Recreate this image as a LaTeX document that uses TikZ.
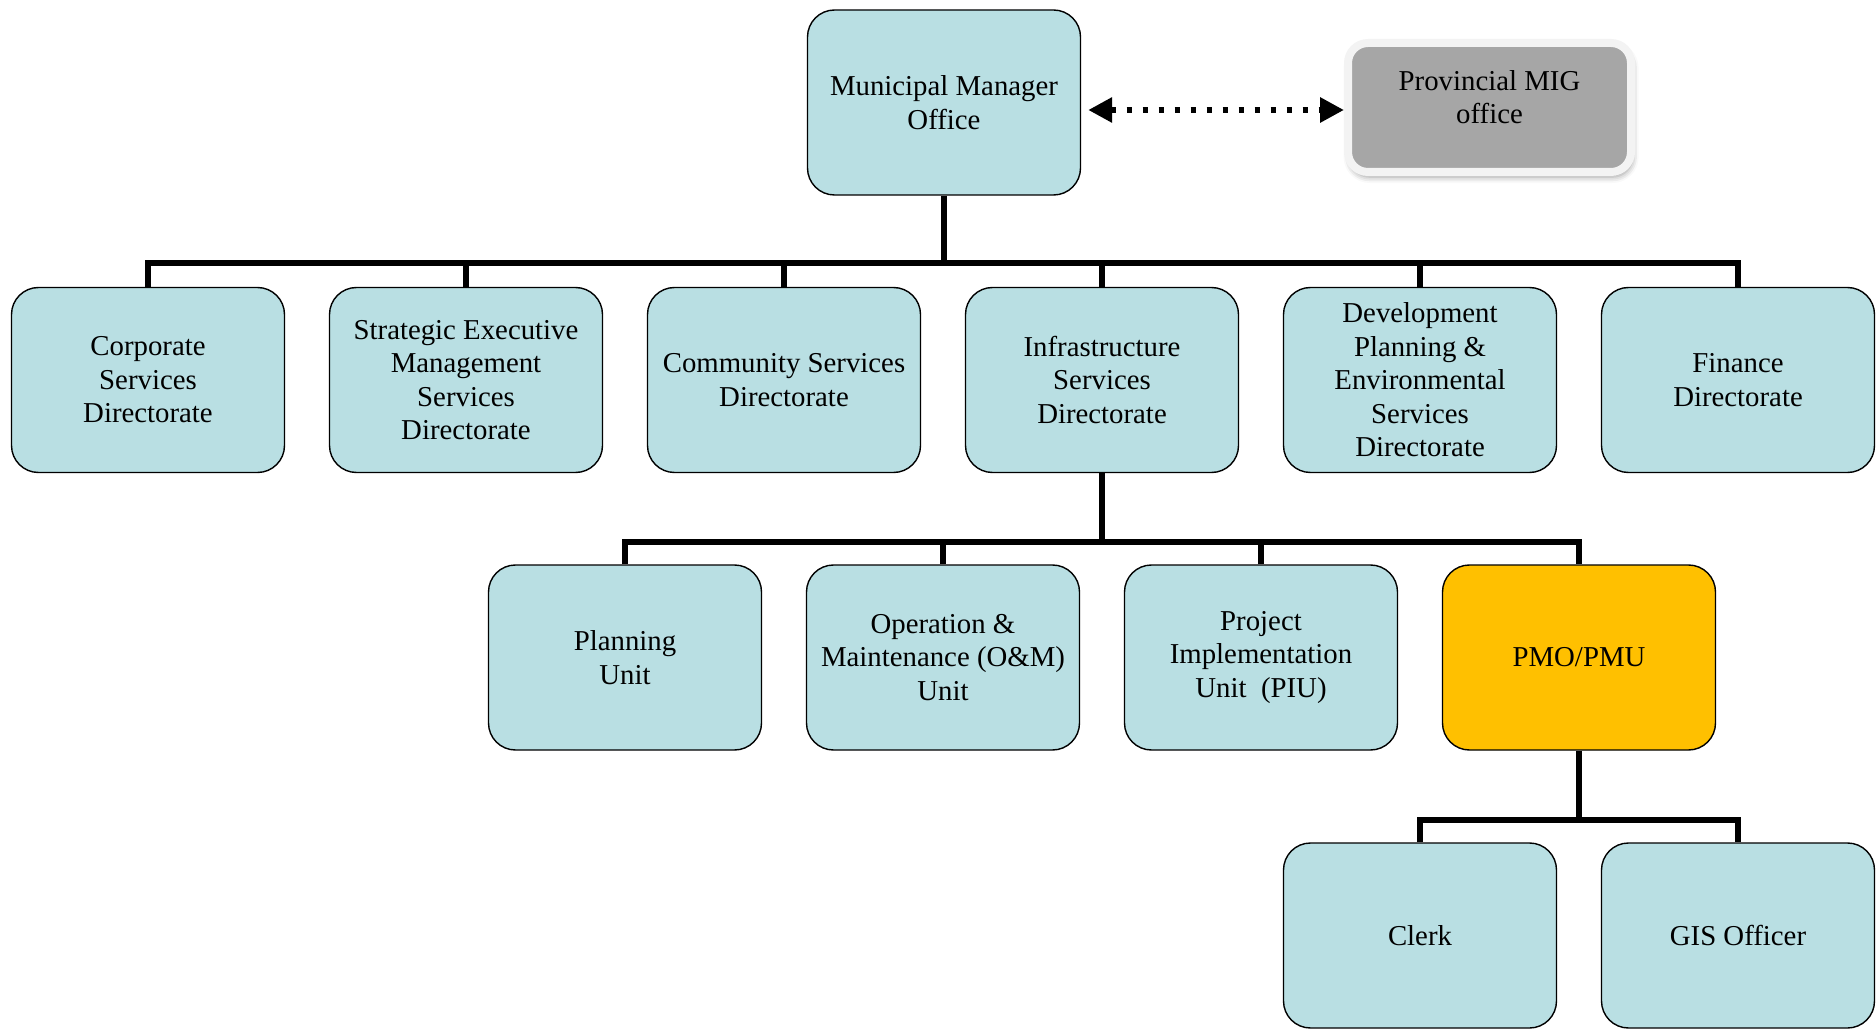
\documentclass[tikz,border=0pt]{standalone}
\usepackage{fontspec}
\setmainfont{Liberation Serif}
\usetikzlibrary{arrows.meta,shadows.blur}

\definecolor{boxblue}{HTML}{B9DFE3}
\definecolor{pmoorange}{HTML}{FFC000}
\definecolor{miggray}{HTML}{A6A6A6}
\definecolor{migrim}{HTML}{F3F3F3}

\tikzset{
  unit/.style={draw=black, line width=0.7pt, fill=boxblue,
    rounded corners=13.5pt, minimum width=136.5pt, minimum height=92.5pt,
    align=center, inner sep=0pt,
    font=\fontsize{14.4}{16.75}\selectfont},
  keyunit/.style={unit, fill=pmoorange},
  outside/.style={draw=migrim, line width=4pt, fill=miggray,
    rounded corners=10pt, minimum width=141.5pt, minimum height=64.5pt,
    inner sep=0pt,
    blur shadow={shadow xshift=0.8pt, shadow yshift=-2.5pt,
      shadow blur radius=3pt, shadow opacity=40}},
  label text/.style={align=center, inner sep=0pt,
    font=\fontsize{14.4}{16.75}\selectfont},
  link/.style={line width=2.6pt, line join=miter},
  liaison/.style={line width=3.3pt, dash pattern=on 2.8pt off 5.2pt,
    {Triangle[length=12pt,width=12pt]}-{Triangle[length=12pt,width=12pt]}}
}

\begin{document}
\begin{tikzpicture}[x=0.5pt,y=-0.5pt]
\useasboundingbox (0,0) rectangle (1876,1032);

% top office and the provincial liaison
\node[unit] (mm) at (944,102.5) {Municipal Manager\\Office};
\node[outside] (mig) at (1489.5,107.5) {};
\node[label text] (migtext) at (1489.5,97) {Provincial MIG\\office};
\draw[liaison, shorten <=3.5pt] (mm.east |- 0,110) coordinate (la) -- (mig.west |- 0,110) coordinate (lb);

% directorates
\node[unit] (corp) at (148,380) {Corporate\\Services\\Directorate};
\node[unit] (strat) at (466,380) {Strategic Executive\\Management\\Services\\Directorate};
\node[unit] (comm) at (784,380) {Community Services\\Directorate};
\node[unit] (infra) at (1102,380) {Infrastructure\\Services\\Directorate};
\node[unit] (dev) at (1420,380) {Development\\Planning \&\\Environmental\\Services\\Directorate};
\node[unit] (fin) at (1738,380) {Finance\\Directorate};

% infrastructure units
\node[unit] (plan) at (625,657.5) {Planning\\Unit};
\node[unit] (om) at (943,657.5) {Operation \&\\Maintenance (O\&M)\\Unit};
\node[unit] (piu) at (1261,657.5) {Project\\Implementation\\Unit\ \ (PIU)};
\node[keyunit] (pmo) at (1579,657.5) {PMO/PMU};

% PMO/PMU staff
\node[unit] (clerk) at (1420,935.5) {Clerk};
\node[unit] (gis) at (1738,935.5) {GIS Officer};

% bus levels
\coordinate (busA) at (0,263);
\coordinate (busB) at (0,542);
\coordinate (busC) at (0,820);

% level 1 connectors
\draw[link] (mm.south) -- (mm.south |- busA);
\draw[link] (corp.north) -- (corp.north |- busA) -- (fin.north |- busA) -- (fin.north);
\foreach \n in {strat,comm,infra,dev}
  \draw[link] (\n.north) -- (\n.north |- busA);

% level 2 connectors
\draw[link] (infra.south) -- (infra.south |- busB);
\draw[link] (plan.north) -- (plan.north |- busB) -- (pmo.north |- busB) -- (pmo.north);
\foreach \n in {om,piu}
  \draw[link] (\n.north) -- (\n.north |- busB);

% level 3 connectors
\draw[link] (pmo.south) -- (pmo.south |- busC);
\draw[link] (clerk.north) -- (clerk.north |- busC) -- (gis.north |- busC) -- (gis.north);
\end{tikzpicture}
\end{document}
